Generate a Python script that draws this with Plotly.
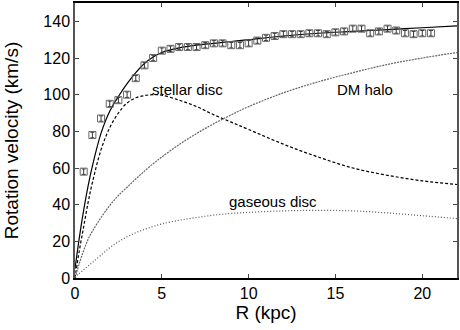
import plotly.graph_objects as go

# observed rotation curve
r_obs = [0.5, 1.0, 1.5, 2.0, 2.5, 3.0, 3.5, 4.0, 4.5, 5.0, 5.5, 6.0, 6.5, 7.0,
         7.5, 8.0, 8.5, 9.0, 9.5, 10.0, 10.5, 11.0, 11.5, 12.0, 12.5, 13.0,
         13.5, 14.0, 14.5, 15.0, 15.5, 16.0, 16.5, 17.0, 17.5, 18.0, 18.5,
         19.0, 19.5, 20.0, 20.5]
v_obs = [58, 78, 87, 95, 97, 100, 109, 116, 120, 124, 125, 126, 126, 126,
         127, 128, 128, 127, 127, 128, 129.5, 131, 132, 133, 133, 133,
         133.5, 133.5, 133, 134, 134.5, 136, 136, 133.5, 134.5, 136, 135,
         133.5, 133, 133.5, 133.5]
v_err = [1.5] * len(r_obs)

# model components
r_mod = [0, 0.25, 0.5, 0.75, 1, 1.5, 2, 2.5, 3, 3.5, 4, 4.5, 5, 6, 7, 8, 9,
         10, 12, 14, 16, 18, 20, 22]
v_total = [5, 22, 37, 50, 61, 79, 91, 99, 106, 112, 117, 120.5, 123, 125.5,
           127, 128, 129, 130, 132, 133.5, 134.5, 135.5, 136.5, 137.5]
v_stellar = [0, 15, 28, 41, 52, 70, 82, 90, 95.5, 98.3, 99.5, 100, 99.7, 97,
             93.5, 89, 85, 81, 73, 66, 60, 56, 53, 51]
v_dm = [0, 8, 15, 21, 25.5, 33, 39.5, 45, 49.5, 54, 58.3, 62.3, 66, 72.8,
        78.8, 84.2, 89, 93.5, 101, 107, 112, 116.5, 120, 123]
v_gas = [0, 2.5, 4.5, 6.5, 8.5, 12.5, 16.5, 19.8, 22.5, 24.7, 26.5, 28.1,
         29.5, 31.5, 33, 34.3, 35.2, 35.8, 36.6, 36.9, 36.6, 35.5, 34, 32.4]

fig = go.Figure()
fig.add_trace(go.Scatter(x=r_mod, y=v_total, mode="lines", line_shape="spline",
                         line=dict(color="black", width=1.2)))
fig.add_trace(go.Scatter(x=r_mod, y=v_stellar, mode="lines", line_shape="spline",
                         line=dict(color="black", width=1.2, dash="3px,2px")))
fig.add_trace(go.Scatter(x=r_mod, y=v_dm, mode="lines", line_shape="spline",
                         line=dict(color="#666666", width=1.2, dash="2px,1px")))
fig.add_trace(go.Scatter(x=r_mod, y=v_gas, mode="lines", line_shape="spline",
                         line=dict(color="#555555", width=1.2, dash="1px,2px")))
fig.add_trace(go.Scatter(x=r_obs, y=v_obs, mode="markers",
                         error_y=dict(type="data", array=v_err, color="#333333",
                                      thickness=1, width=2),
                         marker=dict(symbol="square-open", size=7, color="#666666",
                                     line=dict(width=1))))

labels = [("stellar disc", 6.5, 103), ("DM halo", 16.7, 103), ("gaseous disc", 11.4, 42)]
for txt, x, y in labels:
    fig.add_annotation(x=x, y=y, text=txt, showarrow=False,
                       font=dict(size=15, color="black"))

fig.update_layout(
    width=460, height=330,
    margin=dict(l=75, r=3, t=3, b=52),
    paper_bgcolor="white", plot_bgcolor="white",
    showlegend=False,
    font=dict(family="Liberation Sans, Arial, sans-serif", size=16, color="black"),
)
fig.update_xaxes(range=[0, 22], tickvals=[0, 5, 10, 15, 20], ticks="inside",
                 ticklen=4, showgrid=False, zeroline=False, showline=True,
                 linecolor="black", linewidth=1.5, mirror="ticks", automargin=False,
                 title=dict(text="R (kpc)", standoff=4))
fig.update_yaxes(range=[0, 150], tickvals=list(range(0, 141, 20)), ticks="inside",
                 ticklen=4, showgrid=False, zeroline=False, showline=True,
                 linecolor="#555555", linewidth=1.5, mirror="ticks", automargin=False,
                 title=dict(text="Rotation velocity (km/s)", standoff=20))

# the page's default body margin would shift the figure by 8px
fig.write_html("out.html", config={"displayModeBar": False},
               post_script="document.body.style.margin='0';")
